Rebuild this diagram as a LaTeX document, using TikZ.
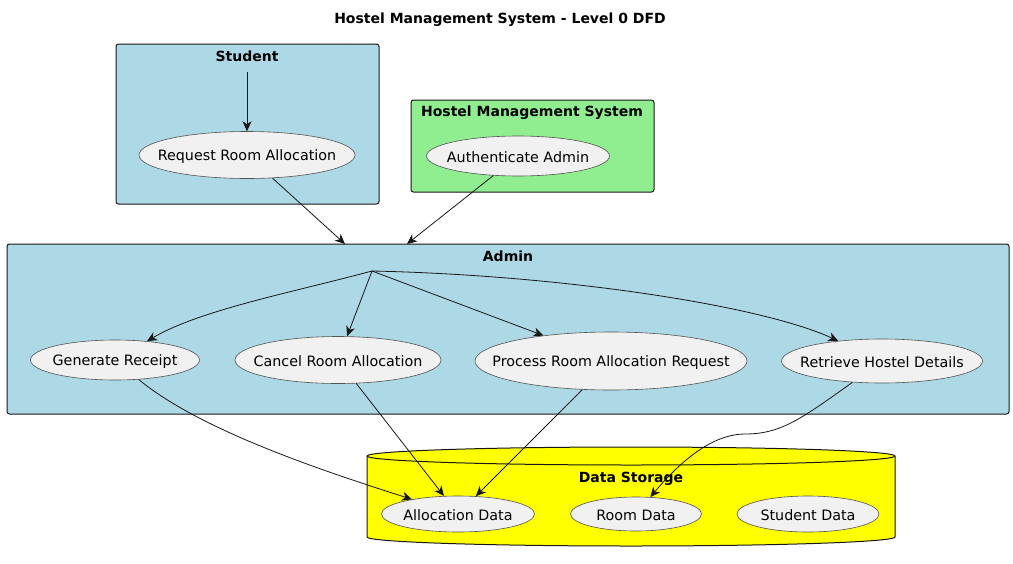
\documentclass[tikz,border=0pt]{standalone}
\usepackage{fontspec}
\setmainfont{DejaVu Sans}
\usetikzlibrary{shapes.geometric,arrows.meta,fit}

\definecolor{boxblue}{HTML}{ADD8E6}
\definecolor{boxgreen}{HTML}{90EE90}
\definecolor{storeyellow}{HTML}{FFFF00}
\definecolor{ucfill}{HTML}{F1F1F1}
\definecolor{ucline}{HTML}{181818}

\begin{document}
\begin{tikzpicture}[x=1pt, y=-1pt,
    font=\fontsize{14.3}{17}\selectfont,
    every label/.style={yshift=-1.5pt},
    usecase/.style={ellipse, draw=ucline!75, line width=0.6pt, fill=ucfill, inner sep=0pt},
    groupbox/.style={draw=ucline, line width=1pt, rounded corners=2.5pt, inner sep=0pt},
    grouplabel/.style={font=\fontsize{14}{17}\selectfont\bfseries, yshift=-2pt},
    flow/.style={-{Stealth[length=10pt, width=9pt, inset=3pt]}, draw=ucline, line width=0.8pt}]

    % Khung hình
    \useasboundingbox (0,0) rectangle (1013,563);

    % Tiêu đề
    \node[grouplabel] (title) at (500,18) {Hostel Management System - Level 0 DFD};

    % Vẽ các khung
    \node[groupbox, fill=boxblue, fit={(116,44) (379,204)}] (student) {};
    \node[groupbox, fill=boxgreen, fit={(411,100) (654,192)}] (hms) {};
    \node[groupbox, fill=boxblue, fit={(7,244) (1009,414)}] (admin) {};

    % Vẽ kho dữ liệu (hình trụ)
    \draw[draw=ucline, line width=1pt, fill=storeyellow] (367,456) -- (367,537)
        arc[start angle=180, end angle=0, x radius=264, y radius=9] -- (895,456)
        arc[start angle=0, end angle=-180, x radius=264, y radius=9] -- cycle;
    \draw[draw=ucline, line width=1pt] (367,456)
        arc[start angle=180, end angle=0, x radius=264, y radius=9];

    % Nhãn các khung
    \node[grouplabel] (studentlbl) at (247,54) {Student};
    \node[grouplabel] (hmslbl) at (532,111) {Hostel Management System};
    \node[grouplabel] (adminlbl) at (508,254) {Admin};
    \node[grouplabel] (storelbl) at (631,477) {Data Storage};

    % Các tiến trình
    \node[usecase, minimum width=216pt, minimum height=47pt, label=center:Request Room Allocation] (req) at (247,155) {};
    \node[usecase, minimum width=183pt, minimum height=40pt, label=center:Authenticate Admin] (auth) at (518,156) {};
    \node[usecase, minimum width=169pt, minimum height=40pt, label=center:Generate Receipt] (gen) at (115,360) {};
    \node[usecase, minimum width=206pt, minimum height=47pt, label=center:Cancel Room Allocation] (cancel) at (338,360) {};
    \node[usecase, minimum width=272pt, minimum height=58pt, label=center:Process Room Allocation Request] (proc) at (611,361) {};
    \node[usecase, minimum width=201pt, minimum height=44pt, label=center:Retrieve Hostel Details] (retr) at (882,361) {};

    % Các kho dữ liệu
    \node[usecase, minimum width=153pt, minimum height=36pt, label=center:Allocation Data] (alloc) at (458,514) {};
    \node[usecase, minimum width=131pt, minimum height=34pt, label=center:Room Data] (room) at (636,514) {};
    \node[usecase, minimum width=142pt, minimum height=36pt, label=center:Student Data] (studdata) at (808,514) {};

    % Các điểm phụ
    \coordinate (studtop) at (247,72);
    \coordinate (hub) at (372,271);
    \coordinate (admin1) at (345,244);
    \coordinate (admin2) at (407,244);
    \coordinate (bend) at (745,434);

    % Vẽ các luồng dữ liệu
    \draw[flow] (studtop) -- (req);
    \draw[flow] (req) -- (admin1);
    \draw[flow] (auth) -- (admin2);
    \draw[flow] (hub) .. controls (290,293) and (200,310) .. (gen);
    \draw[flow] (hub) -- (cancel);
    \draw[flow] (hub) -- (proc);
    \draw[flow] (hub) .. controls (560,275) and (760,305) .. (retr);
    \draw[flow] (gen) .. controls (200,430) and (320,470) .. (alloc);
    \draw[flow] (cancel) -- (alloc);
    \draw[flow] (proc) -- (alloc);
    \draw[flow] (retr) .. controls (800,420) and (780,434) .. (bend)
        .. controls (720,434) and (690,450) .. (room);
\end{tikzpicture}
\end{document}
